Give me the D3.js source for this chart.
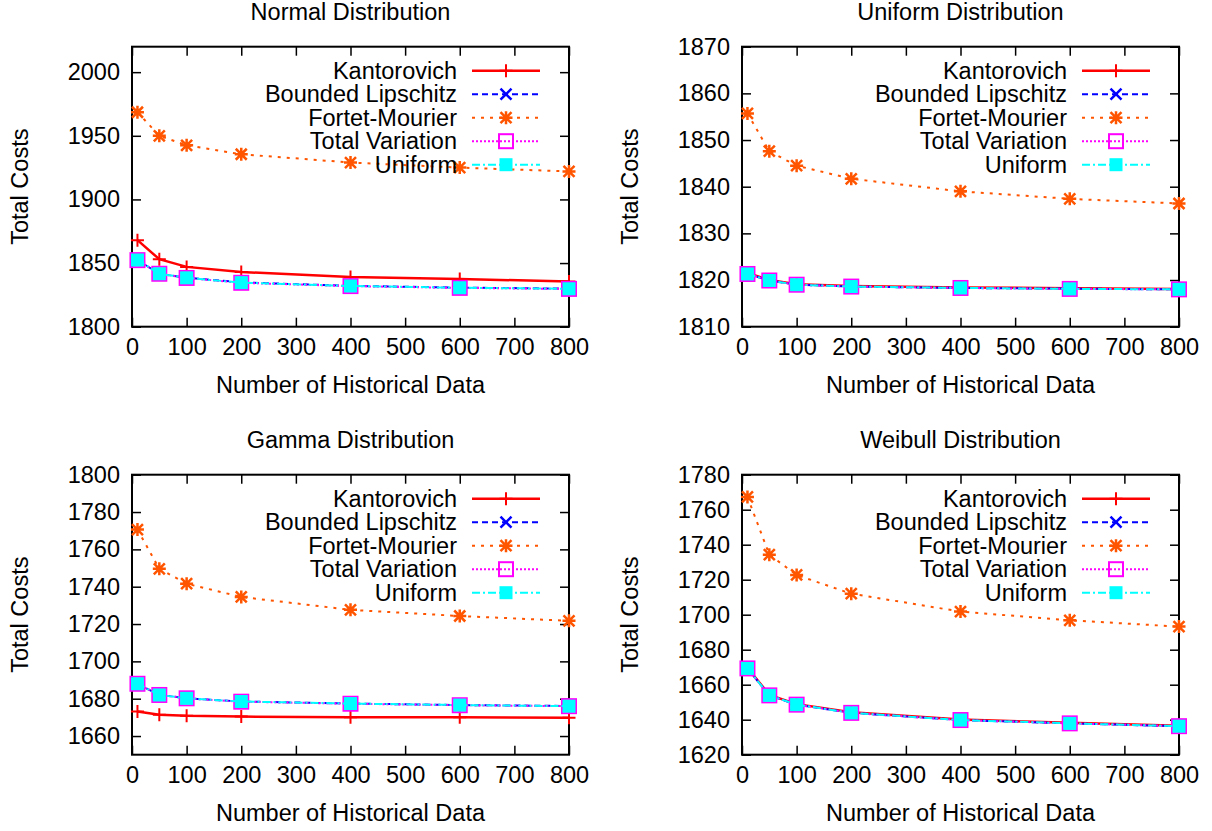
<!DOCTYPE html>
<html>
<head>
<meta charset="utf-8">
<title>Total costs vs historical data</title>
<script src="https://d3js.org/d3.v7.min.js"></script>
<style>
  body { margin: 0; background: #fff; }
  text { font-family: "Liberation Sans", Arial, Helvetica, sans-serif; fill: #000; }
</style>
</head>
<body>
<svg width="1212" height="831"></svg>
<script>
// ---- data ----
var sampleSizes = [10, 50, 100, 200, 400, 600, 800];
var seriesNames = ["Kantorovich", "Bounded Lipschitz", "Fortet-Mourier", "Total Variation", "Uniform"];
var panelTitles = ["Normal Distribution", "Uniform Distribution", "Gamma Distribution", "Weibull Distribution"];
var xTicks = [0, 100, 200, 300, 400, 500, 600, 700, 800];

// values per panel, in series order: K, BL, FM, TV, Uniform
var normalCosts = [
  [1868, 1853, 1847, 1843, 1839, 1837.5, 1835.5],
  [1852.5, 1841.5, 1838.5, 1834.8, 1832.1, 1830.7, 1829.9],
  [1968.5, 1950, 1942.5, 1935.5, 1929, 1925, 1922],
  [1852.3, 1841.6, 1838.3, 1834.5, 1831.9, 1830.5, 1829.7],
  [1852.4, 1841.6, 1838.4, 1834.6, 1832, 1830.6, 1829.8]
];
var uniformCosts = [
  [1821.5, 1820, 1819.1, 1818.7, 1818.4, 1818.25, 1818.1],
  [1821.3, 1819.9, 1819, 1818.6, 1818.3, 1818.15, 1818.0],
  [1855.7, 1847.6, 1844.5, 1841.7, 1839, 1837.4, 1836.4],
  [1821.3, 1819.9, 1819, 1818.6, 1818.3, 1818.1, 1818.0],
  [1821.3, 1819.9, 1819, 1818.6, 1818.3, 1818.1, 1818.0]
];
var gammaCosts = [
  [1673.2, 1671.4, 1670.8, 1670.4, 1670.1, 1670, 1669.8],
  [1688, 1682, 1680.2, 1678.5, 1677.4, 1676.6, 1676.1],
  [1770.6, 1749.6, 1741.6, 1734.5, 1727.6, 1724.3, 1721.7],
  [1688, 1682, 1680.2, 1678.4, 1677.3, 1676.5, 1676],
  [1688, 1682, 1680.2, 1678.5, 1677.4, 1676.6, 1676]
];
var weibullCosts = [
  [1669.6, 1654.2, 1648.9, 1644.2, 1640.1, 1638.2, 1636.6],
  [1669.3, 1653.9, 1648.6, 1643.9, 1639.8, 1637.9, 1636.3],
  [1767.3, 1734.3, 1722.7, 1712, 1701.8, 1696.8, 1693.2],
  [1669.3, 1653.9, 1648.6, 1643.9, 1639.8, 1637.9, 1636.3],
  [1669.3, 1653.9, 1648.6, 1643.9, 1639.8, 1637.9, 1636.3]
];
var yDomains = [[1800, 2020], [1810, 1870], [1650, 1800], [1620, 1780]];
var yTickValues = [
  [1800, 1850, 1900, 1950, 2000],
  [1810, 1820, 1830, 1840, 1850, 1860, 1870],
  [1660, 1680, 1700, 1720, 1740, 1760, 1780, 1800],
  [1620, 1640, 1660, 1680, 1700, 1720, 1740, 1760, 1780]
];

// ---- styles ----
var styles = [
  {color: "#ff0000", width: 2.5, dash: null, marker: "plus"},
  {color: "#0000ff", width: 2, dash: "6,4", marker: "cross"},
  {color: "#ff5500", width: 2, dash: "3,6", marker: "star"},
  {color: "#ff00ff", width: 2, dash: "2,2", marker: "box"},
  {color: "#00ffff", width: 2, dash: "8,3,2,3", marker: "fbox"}
];

var svg = d3.select("svg");
var fontSize = 23.5;
var plotW = 437, plotH = 280;
var lefts = [132, 742, 132, 742];
var tops = [46.7, 46.7, 474.7, 474.7];
var allCosts = [normalCosts, uniformCosts, gammaCosts, weibullCosts];

function drawMarker(g, type, cx, cy, color) {
  var s = 6.5, d = 5.5;
  if (type === "plus") {
    g.append("path").attr("d", "M" + (cx - s) + "," + cy + "H" + (cx + s) + "M" + cx + "," + (cy - s) + "V" + (cy + s))
      .attr("stroke", color).attr("stroke-width", 2).attr("fill", "none");
  } else if (type === "cross") {
    g.append("path").attr("d", "M" + (cx - d) + "," + (cy - d) + "L" + (cx + d) + "," + (cy + d) + "M" + (cx - d) + "," + (cy + d) + "L" + (cx + d) + "," + (cy - d))
      .attr("stroke", color).attr("stroke-width", 2.5).attr("fill", "none");
  } else if (type === "star") {
    g.append("path").attr("d", "M" + (cx - s) + "," + cy + "H" + (cx + s) + "M" + cx + "," + (cy - s) + "V" + (cy + s) +
      "M" + (cx - d) + "," + (cy - d) + "L" + (cx + d) + "," + (cy + d) + "M" + (cx - d) + "," + (cy + d) + "L" + (cx + d) + "," + (cy - d))
      .attr("stroke", color).attr("stroke-width", 2.5).attr("fill", "none");
  } else if (type === "box") {
    g.append("rect").attr("x", cx - 7).attr("y", cy - 7).attr("width", 14).attr("height", 14)
      .attr("stroke", color).attr("stroke-width", 2).attr("fill", "none");
  } else if (type === "fbox") {
    g.append("rect").attr("x", cx - 6.5).attr("y", cy - 6.5).attr("width", 13).attr("height", 13)
      .attr("fill", color);
  }
}

allCosts.forEach(function(costs, p) {
  var g = svg.append("g").attr("transform", "translate(" + lefts[p] + "," + tops[p] + ")");
  var x = d3.scaleLinear().domain([0, 800]).range([0, plotW]);
  var y = d3.scaleLinear().domain(yDomains[p]).range([plotH, 0]);

  // axes, ticks pointing inward, mirrored on top and right
  g.append("g").attr("transform", "translate(0," + plotH + ")")
    .call(d3.axisBottom(x).tickValues(xTicks).tickFormat(d3.format("d")).tickSizeInner(-9).tickSizeOuter(0).tickPadding(12))
    .call(function(a) { a.select(".domain").remove(); });
  g.append("g")
    .call(d3.axisTop(x).tickValues(xTicks).tickSizeInner(-9).tickSizeOuter(0).tickFormat(""))
    .call(function(a) { a.select(".domain").remove(); });
  g.append("g")
    .call(d3.axisLeft(y).tickValues(yTickValues[p]).tickFormat(d3.format("d")).tickSizeInner(-9).tickSizeOuter(0).tickPadding(12))
    .call(function(a) { a.select(".domain").remove(); });
  g.append("g").attr("transform", "translate(" + plotW + ",0)")
    .call(d3.axisRight(y).tickValues(yTickValues[p]).tickSizeInner(-9).tickSizeOuter(0).tickFormat(""))
    .call(function(a) { a.select(".domain").remove(); });
  g.selectAll(".tick line").attr("stroke", "#000").attr("stroke-width", 1.5);
  g.selectAll(".tick text").attr("font-size", fontSize).attr("font-family", "Liberation Sans, Arial, sans-serif").attr("fill", "#000");

  g.append("rect").attr("width", plotW).attr("height", plotH)
    .attr("fill", "none").attr("stroke", "#000").attr("stroke-width", 2);

  // title and axis labels
  g.append("text").attr("x", plotW / 2).attr("y", -35).attr("text-anchor", "middle")
    .attr("dominant-baseline", "central").attr("font-size", fontSize).text(panelTitles[p]);
  g.append("text").attr("x", plotW / 2).attr("y", plotH + 58).attr("text-anchor", "middle")
    .attr("dominant-baseline", "central").attr("font-size", fontSize).text("Number of Historical Data");
  g.append("text").attr("transform", "translate(-112," + (plotH / 2) + ") rotate(-90)")
    .attr("text-anchor", "middle").attr("dominant-baseline", "central").attr("font-size", fontSize).text("Total Costs");

  // series
  var line = d3.line().x(function(d, i) { return x(sampleSizes[i]); }).y(function(d) { return y(d); });
  costs.forEach(function(vals, s) {
    var st = styles[s];
    var sg = g.append("g");
    sg.append("path").attr("d", line(vals)).attr("fill", "none")
      .attr("stroke", st.color).attr("stroke-width", st.width)
      .attr("stroke-dasharray", st.dash);
    vals.forEach(function(v, i) { drawMarker(sg, st.marker, x(sampleSizes[i]), y(v), st.color); });
  });

  // legend
  var lg = g.append("g");
  seriesNames.forEach(function(name, s) {
    var st = styles[s];
    var ly = 24 + s * 23.5;
    lg.append("text").attr("x", plotW - 112).attr("y", ly).attr("text-anchor", "end")
      .attr("dominant-baseline", "central").attr("font-size", fontSize).text(name);
    lg.append("line").attr("x1", plotW - 97).attr("x2", plotW - 29).attr("y1", ly).attr("y2", ly)
      .attr("stroke", st.color).attr("stroke-width", st.width).attr("stroke-dasharray", st.dash);
    drawMarker(lg, st.marker, plotW - 63, ly, st.color);
  });
});
</script>
</body>
</html>
